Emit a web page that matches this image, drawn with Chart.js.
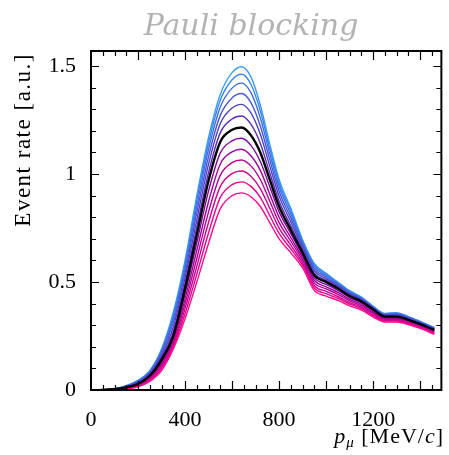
<!DOCTYPE html>
<html lang="en">
<head>
<meta charset="UTF-8">
<title>Pauli blocking</title>
<script src="https://cdn.jsdelivr.net/npm/chart.js@4.4.1/dist/chart.umd.min.js"></script>
<style>
  body { margin: 0; background: #fff; }
</style>
</head>
<body>
<canvas id="canvas" width="449" height="455"></canvas>
<script>
  // muon momentum grid [MeV/c]
  const momentum = [40, 100, 150, 200, 250, 300, 350, 400, 450, 500, 550, 600, 640, 680, 720,
                    760, 800, 850, 900, 950, 1000, 1050, 1100, 1150, 1200, 1250, 1300, 1350, 1400, 1460];

  // event rate for each blocking strength, strongest first
  const rate0  = [0, .002, .006, .015, .040, .090, .190, .330, .500, .680, .840, .900, .913, .895, .850, .775, .700, .635, .565, .460, .435, .415, .390, .370, .338, .315, .315, .303, .285, .258];
  const rate1  = [0, .002, .007, .017, .044, .098, .200, .353, .537, .728, .892, .951, .964, .943, .892, .808, .725, .653, .577, .472, .446, .424, .398, .377, .344, .319, .319, .307, .288, .261];
  const rate2  = [0, .003, .008, .019, .049, .107, .210, .377, .573, .777, .943, 1.002, 1.014, .990, .933, .842, .750, .670, .588, .483, .457, .433, .405, .383, .350, .323, .323, .310, .292, .265];
  const rate3  = [0, .003, .009, .022, .053, .115, .220, .400, .610, .825, .995, 1.053, 1.065, 1.038, .975, .875, .775, .688, .600, .495, .468, .443, .413, .390, .356, .328, .328, .314, .295, .268];
  const rate4  = [0, .003, .010, .024, .057, .123, .230, .423, .647, .873, 1.047, 1.103, 1.115, 1.085, 1.017, .908, .800, .705, .612, .507, .478, .452, .420, .397, .361, .332, .332, .318, .298, .271];
  const rate5  = [0, .004, .011, .026, .062, .132, .240, .447, .683, .922, 1.098, 1.154, 1.166, 1.133, 1.058, .942, .825, .723, .623, .518, .489, .461, .428, .403, .367, .336, .336, .321, .302, .275];
  const rate6  = [0, .004, .012, .028, .066, .140, .250, .470, .720, .970, 1.150, 1.205, 1.216, 1.180, 1.100, .975, .850, .740, .635, .530, .500, .470, .435, .410, .373, .340, .340, .325, .305, .278];
  const rate7  = [0, .004, .014, .031, .071, .150, .271, .495, .754, 1.008, 1.192, 1.255, 1.269, 1.231, 1.142, 1.006, .874, .759, .646, .540, .508, .476, .440, .414, .376, .343, .343, .328, .307, .280];
  const rate8  = [0, .005, .015, .034, .075, .159, .292, .519, .788, 1.046, 1.234, 1.306, 1.323, 1.283, 1.184, 1.038, .898, .778, .658, .551, .515, .481, .445, .418, .379, .346, .347, .331, .310, .283];
  const rate9  = [0, .005, .016, .038, .079, .168, .312, .543, .821, 1.082, 1.273, 1.353, 1.373, 1.331, 1.223, 1.067, .920, .796, .669, .561, .522, .487, .449, .421, .381, .348, .350, .333, .312, .285];
  const rate10 = [0, .005, .018, .040, .084, .177, .330, .565, .851, 1.116, 1.311, 1.398, 1.421, 1.377, 1.261, 1.095, .941, .813, .679, .570, .529, .492, .453, .425, .384, .351, .353, .336, .314, .287];
  const rate11 = [0, .006, .019, .043, .087, .184, .346, .584, .878, 1.145, 1.343, 1.437, 1.462, 1.416, 1.293, 1.119, .959, .828, .688, .578, .535, .496, .457, .428, .386, .353, .356, .338, .316, .288];
  const rate12 = [0, .006, .020, .045, .090, .190, .360, .600, .900, 1.170, 1.370, 1.470, 1.497, 1.450, 1.320, 1.140, .975, .840, .695, .585, .540, .500, .460, .430, .388, .355, .358, .340, .318, .290];

  const rates = [rate0, rate1, rate2, rate3, rate4, rate5, rate6, rate7, rate8, rate9, rate10, rate11, rate12];
  const nominal = 6; // unmodified prediction, drawn in black

  const xTickLabels = [0, 400, 800, 1200];
  const yTickLabels = [0, 0.5, 1, 1.5];

  const lineColors = ['#ff0a8a', '#e6048c', '#cc0290', '#b30294', '#990499', '#80089f', '#000000',
                      '#5a2cb8', '#4d42c8', '#4658d6', '#406ee2', '#3a85ee', '#369cf8'];

  const serif = "'Liberation Serif', 'Times New Roman', serif";
  Chart.defaults.font.family = serif;
  Chart.defaults.color = '#000';

  const datasets = rates.map((r, i) => ({
    data: momentum.map((p, k) => ({ x: p, y: r[k] })),
    borderColor: lineColors[i],
    borderWidth: i === nominal ? 2.4 : 1.4,
    pointRadius: 0,
    cubicInterpolationMode: 'monotone',
    order: i === nominal ? 0 : 1
  }));

  // inward ticks on all four sides, the frame and the titles
  const framePlugin = {
    id: 'frame',
    afterDraw(chart) {
      const { ctx, chartArea: a, scales: { x, y } } = chart;
      ctx.save();
      ctx.strokeStyle = '#000';
      ctx.lineWidth = 1.2;
      ctx.beginPath();
      x.ticks.forEach(t => {
        const v = t.value;
        if (v % 50 !== 0 || v <= x.min || v >= x.max) return;
        const px = Math.round(x.getPixelForValue(v)) + 0.5;
        const len = v % 200 === 0 ? 9 : 5;
        ctx.moveTo(px, a.bottom); ctx.lineTo(px, a.bottom - len);
        ctx.moveTo(px, a.top); ctx.lineTo(px, a.top + len);
      });
      y.ticks.forEach(t => {
        const n = Math.round(t.value * 10);
        if (Math.abs(t.value * 10 - n) > 1e-6 || n === 0 || t.value >= y.max) return;
        const py = Math.round(y.getPixelForValue(t.value)) + 0.5;
        const len = n % 5 === 0 ? 8 : 5;
        ctx.moveTo(a.left, py); ctx.lineTo(a.left + len, py);
        ctx.moveTo(a.right, py); ctx.lineTo(a.right - len, py);
      });
      ctx.stroke();
      ctx.lineWidth = 2;
      ctx.strokeRect(a.left, a.top, a.right - a.left, a.bottom - a.top);

      // title
      ctx.fillStyle = '#b3b3b3';
      ctx.font = "italic 30px 'DejaVu Serif', serif";
      ctx.textAlign = 'center';
      ctx.textBaseline = 'alphabetic';
      ctx.fillText('Pauli blocking', 251, 35);

      // y title, top aligned
      ctx.fillStyle = '#000';
      ctx.save();
      ctx.translate(30, a.top + 2);
      ctx.rotate(-Math.PI / 2);
      ctx.textAlign = 'right';
      ctx.font = '23px ' + serif;
      ctx.letterSpacing = '1.5px';
      ctx.fillText('Event rate [a.u.]', 0, 0);
      ctx.restore();

      // x title, right aligned: p_mu [MeV/c]
      ctx.letterSpacing = '1px';
      const parts = [
        { s: 'p', f: 'italic 22px ' + serif, dy: 0 },
        { s: 'μ', f: 'italic 15px ' + serif, dy: 4 },
        { s: ' [MeV/', f: '22px ' + serif, dy: 0 },
        { s: 'c', f: 'italic 22px ' + serif, dy: 0 },
        { s: ']', f: '22px ' + serif, dy: 0 }
      ];
      let total = 0;
      parts.forEach(p => { ctx.font = p.f; p.w = ctx.measureText(p.s).width; total += p.w; });
      let cx = 444 - total;
      ctx.textAlign = 'left';
      parts.forEach(p => {
        ctx.font = p.f;
        ctx.fillText(p.s, cx, 443 + p.dy);
        cx += p.w;
      });
      ctx.restore();
    }
  };

  new Chart(document.getElementById('canvas'), {
    type: 'line',
    data: { datasets },
    options: {
      responsive: false,
      animation: false,
      layout: { padding: { top: 51, right: 1, left: 0, bottom: 0 } },
      plugins: { legend: { display: false }, tooltip: { enabled: false } },
      scales: {
        x: {
          type: 'linear',
          min: 0,
          max: 1490,
          grid: { display: false, drawTicks: false },
          border: { display: false },
          ticks: {
            stepSize: 50,
            includeBounds: false,
            autoSkip: false,
            maxRotation: 0,
            padding: 17,
            font: { size: 22 },
            callback: v => xTickLabels.includes(v) ? String(v) : ''
          },
          afterFit(scale) { scale.height = 65; }
        },
        y: {
          min: 0,
          max: 1.57,
          grid: { display: false, drawTicks: false },
          border: { display: false },
          ticks: {
            stepSize: 0.1,
            includeBounds: false,
            autoSkip: false,
            padding: 15,
            font: { size: 22 },
            callback: v => yTickLabels.some(l => Math.abs(l - v) < 1e-6) ? String(Math.round(v * 10) / 10) : ''
          },
          afterFit(scale) { scale.width = 91; }
        }
      }
    },
    plugins: [framePlugin]
  });
</script>
</body>
</html>
